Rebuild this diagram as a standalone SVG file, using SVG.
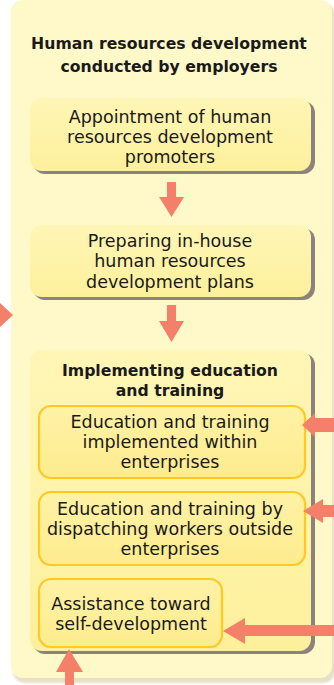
<svg xmlns="http://www.w3.org/2000/svg" width="334" height="685" viewBox="0 0 334 685">
<defs>
<linearGradient id="boxg" x1="0" y1="0" x2="0" y2="1">
<stop offset="0" stop-color="#FFF6B6"/>
<stop offset="1" stop-color="#FDF09C"/>
</linearGradient>
<linearGradient id="subg" x1="0" y1="0" x2="0" y2="1">
<stop offset="0" stop-color="#FFF2A6"/>
<stop offset="1" stop-color="#FDEC8E"/>
</linearGradient>
<filter id="blur" x="-10%" y="-10%" width="120%" height="120%"><feGaussianBlur stdDeviation="1.2"/></filter>
</defs>
<style>
.t{font-family:"DejaVu Sans","Liberation Sans",sans-serif;font-size:17.5px;fill:#1a1a1a;text-anchor:middle}
.b{font-weight:bold;font-size:15.7px}
.shadow{fill:#8c837e}
.box{fill:url(#boxg)}
.sub{fill:url(#subg);stroke:#FFC822;stroke-width:2.2}
.arrow{fill:#F4806A}
</style>
<g id="panel">
<rect x="13" y="3" width="322" height="680" rx="12" fill="#e6e0c8" filter="url(#blur)"/>
<rect x="11" y="0" width="321" height="678" rx="12" fill="#FFF8C8"/>
<text class="t b" x="169" y="49">Human resources development</text>
<text class="t b" x="169" y="72">conducted by employers</text>
</g>
<g id="box1">
<rect x="33" y="101" width="282" height="73" rx="12" class="shadow"/>
<rect x="30" y="98" width="281" height="73" rx="12" class="box"/>
<text class="t" x="170" y="123">Appointment of human</text>
<text class="t" x="170" y="143">resources development</text>
<text class="t" x="170" y="163">promoters</text>
</g>
<g id="box2">
<rect x="33" y="228" width="282" height="72" rx="12" class="shadow"/>
<rect x="30" y="225" width="281" height="72" rx="12" class="box"/>
<text class="t" x="170" y="247">Preparing in-house</text>
<text class="t" x="170" y="267">human resources</text>
<text class="t" x="170" y="288">development plans</text>
</g>
<g id="box3">
<rect x="33" y="353" width="282" height="301" rx="12" class="shadow"/>
<rect x="30" y="350" width="281" height="301" rx="12" class="box"/>
<text class="t b" x="170" y="376">Implementing education</text>
<text class="t b" x="170" y="396">and training</text>
</g>
<g id="sub1">
<rect x="39" y="406" width="266" height="72" rx="12" class="sub"/>
<text class="t" x="170" y="428">Education and training</text>
<text class="t" x="170" y="448">implemented within</text>
<text class="t" x="170" y="468">enterprises</text>
</g>
<g id="sub2">
<rect x="39" y="492" width="266" height="73" rx="12" class="sub"/>
<text class="t" x="170" y="515">Education and training by</text>
<text class="t" x="170" y="535">dispatching workers outside</text>
<text class="t" x="170" y="555">enterprises</text>
</g>
<g id="sub3">
<rect x="39" y="579" width="183" height="68" rx="12" class="sub"/>
<text class="t" x="131" y="610">Assistance toward</text>
<text class="t" x="131" y="630">self-development</text>
</g>
<g id="connectors">
<polygon class="arrow" points="167,182 176,182 176,197 184,197 171.5,217 159,197 167,197"/>
<polygon class="arrow" points="167,305 176,305 176,321 184,321 171.5,342 159,321 167,321"/>
<polygon class="arrow" points="0,303 13,315 0,327"/>
<polygon class="arrow" points="334,418 315,418 315,413 302,425 315,437 315,432 334,432"/>
<polygon class="arrow" points="334,505 323,505 323,499 303,511 323,523 323,517 334,517"/>
<polygon class="arrow" points="334,625 245,625 245,618 223,631 245,644 245,636 334,636"/>
<polygon class="arrow" points="65,685 65,672 56,672 69,649 83,672 74,672 74,685"/>
</g>
</svg>
